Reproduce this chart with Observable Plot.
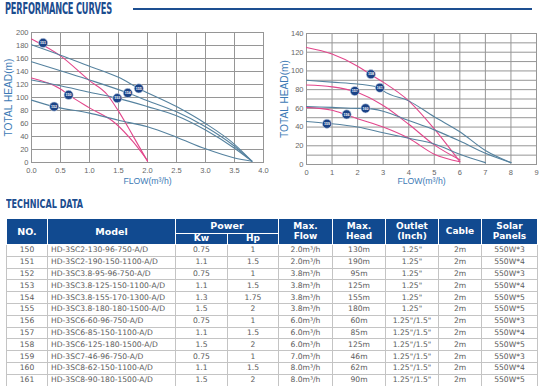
<!DOCTYPE html>
<html>
<head>
<meta charset="utf-8">
<script src="https://cdn.jsdelivr.net/npm/d3@7"></script>
<script src="https://cdn.jsdelivr.net/npm/@observablehq/plot@0.6"></script>
<style>
  html, body { margin: 0; padding: 0; background: #fff; }
  body { width: 540px; height: 386px; overflow: hidden; position: relative; font-family: "DejaVu Sans", Verdana, sans-serif; }
  .heading { position: absolute; color: #1c4d8f; font-family: "Liberation Sans Narrow", "DejaVu Sans Condensed", sans-serif; font-weight: bold; white-space: nowrap; transform-origin: 0 0; line-height: 1; }
  #perf { left: 5px; top: 2px; font-size: 15px; letter-spacing: -0.3px; }
  #tech { left: 6px; top: 198px; font-size: 12.5px; }
  #rule { position: absolute; left: 133px; top: 8px; width: 399px; height: 2px; background: #1d4f91; }
  .chart { position: absolute; top: 20px; }
  #left { left: 0; }
  #right { left: 270px; }
  table { position: absolute; left: 6px; top: 218px; width: 531px; border-collapse: collapse; table-layout: fixed; }
  th { background: #114a90; color: #fff; font-weight: bold; font-size: 9px; line-height: 9.5px; border: 1.5px solid #fff; padding: 0; text-align: center; }
  th.top { height: 14px; }
  th.sub { height: 10px; }
  td { border: 1px solid #c4c4c4; color: #5a5a5a; font-size: 7.6px; height: 10.8px; line-height: 10px; padding: 0; text-align: center; white-space: nowrap; }
  td.model { text-align: left; padding-left: 3px; }
</style>
</head>
<body>
<div id="perf" class="heading">PERFORMANCE CURVES</div>
<div id="rule"></div>
<div id="left" class="chart"></div>
<div id="right" class="chart"></div>
<div id="tech" class="heading">TECHNICAL DATA</div>
<table id="spec"></table>
<script>
// Head (m) against flow (m³/h) for each pump, as [flow, head] pairs
const curve150 = [[0,130],[0.5,113],[0.64,104],[1.0,84],[1.45,60],[1.75,32],[2.0,3]];
const curve151 = [[0,190],[0.5,164],[1.0,126],[1.3,105],[1.5,79],[1.75,41],[2.0,2]];
const curve152 = [[0,96],[0.39,86],[1.0,76],[1.5,65],[2.0,55],[2.5,39],[3.0,21],[3.5,7],[3.8,2]];
const curve153 = [[0,127],[0.5,118],[1.0,108],[1.48,99],[2.0,86],[2.5,72],[3.0,50],[3.5,22],[3.8,2]];
const curve154 = [[0,155],[0.5,141],[1.0,127],[1.66,107],[2.0,95],[2.5,78],[3.0,55],[3.5,25],[3.8,2]];
const curve155 = [[0,181],[0.5,165],[1.0,148],[1.5,131],[1.85,114],[2.5,86],[3.0,60],[3.5,28],[3.8,2]];
const curve156 = [[0,61],[1,58],[1.57,53],[2,49],[3,40],[4,28],[5,11],[6,3]];
const curve157 = [[0,85],[1,83],[1.89,78],[3,63],[4,43],[5,21],[6,5]];
const curve158 = [[0,125],[1,118],[2,105],[2.52,96],[3,88],[4,68],[5,38],[6,3]];
const curve159 = [[0,46],[0.8,44],[2,40],[3,34],[4,28],[5,22],[6,11],[7,2]];
const curve160 = [[0,62],[1,61],[2,60],[2.31,60],[3,57],[4,47],[5,37],[6,25],[7,12],[8,2]];
const curve161 = [[0,90],[1,88],[2,86],[2.87,82],[3,79],[4,68],[5,51],[6,35],[7,15],[8,2]];

// Numbered badges on the curves
const badgeNo   = [151, 152, 150, 153, 154, 155, 158, 161, 157, 160, 156, 159];
const badgeFlow = [0.2, 0.39, 0.64, 1.48, 1.66, 1.85, 2.52, 2.87, 1.89, 2.31, 1.57, 0.8];
const badgeHead = [184, 86, 104, 99, 107, 114, 96.5, 82, 78.5, 60, 53.5, 43.5];

// Technical data
const modelNo   = [150, 151, 152, 153, 154, 155, 156, 157, 158, 159, 160, 161];
const modelName = ["HD-3SC2-130-96-750-A/D", "HD-3SC2-190-150-1100-A/D", "HD-3SC3.8-95-96-750-A/D",
  "HD-3SC3.8-125-150-1100-A/D", "HD-3SC3.8-155-170-1300-A/D", "HD-3SC3.8-180-180-1500-A/D",
  "HD-3SC6-60-96-750-A/D", "HD-3SC6-85-150-1100-A/D", "HD-3SC6-125-180-1500-A/D",
  "HD-3SC7-46-96-750-A/D", "HD-3SC8-62-150-1100-A/D", "HD-3SC8-90-180-1500-A/D"];
const powerKw   = ["0.75", "1.1", "0.75", "1.1", "1.3", "1.5", "0.75", "1.1", "1.5", "0.75", "1.1", "1.5"];
const powerHp   = ["1", "1.5", "1", "1.5", "1.75", "2", "1", "1.5", "2", "1", "1.5", "2"];
const maxFlow   = ["2.0", "2.0", "3.8", "3.8", "3.8", "3.8", "6.0", "6.0", "6.0", "7.0", "8.0", "8.0"];
const maxHead   = [130, 190, 95, 125, 155, 180, 60, 85, 125, 46, 62, 90];
const outlet    = ['1.25"', '1.25"', '1.25"', '1.25"', '1.25"', '1.25"',
  '1.25"/1.5"', '1.25"/1.5"', '1.25"/1.5"', '1.25"/1.5"', '1.25"/1.5"', '1.25"/1.5"'];
const cable     = ["2m", "2m", "2m", "2m", "2m", "2m", "2m", "2m", "2m", "2m", "2m", "2m"];
const panels    = [3, 4, 3, 4, 5, 5, 3, 4, 5, 3, 4, 5];

// Pumps drawn in magenta; the rest in steel blue
const magentaPumps = [150, 151, 156, 157, 158];

const curvesByNo = {150: curve150, 151: curve151, 152: curve152, 153: curve153, 154: curve154, 155: curve155,
  156: curve156, 157: curve157, 158: curve158, 159: curve159, 160: curve160, 161: curve161};

const PINK = "#e2468b", BLUE = "#55829f", NAVY = "#1b4387", GRID = "#969696", LABEL = "#3d7ab5";

function rowsFor(nos) {
  return nos.flatMap(no => curvesByNo[no].map(([flow, head]) => ({no, flow, head})));
}
function badgesFor(nos) {
  return badgeNo.map((no, i) => ({no, flow: badgeFlow[i], head: badgeHead[i]})).filter(d => nos.includes(d.no));
}

function curveChart({nos, xMax, xTicks, xGrid, xFormat, yMax, yTicks, yGrid, margins, yLabelDx, xLabelDy}) {
  const rows = rowsFor(nos);
  const badges = badgesFor(nos);
  return Plot.plot({
    width: 270, height: 175, ...margins,
    style: {fontFamily: "'Liberation Sans', Arial, sans-serif", fontSize: "7.5px", color: "#666", background: "transparent"},
    x: {domain: [0, xMax], ticks: xTicks, tickFormat: xFormat, tickSize: 0, tickPadding: 5, label: null},
    y: {domain: [0, yMax], ticks: yTicks, tickSize: 0, tickPadding: 3, label: null},
    marks: [
      Plot.ruleX(xGrid, {stroke: GRID, strokeWidth: 1}),
      Plot.ruleY(yGrid, {stroke: GRID, strokeWidth: 1}),
      Plot.frame({stroke: GRID}),
      Plot.line(rows, {x: "flow", y: "head", z: "no", curve: "monotone-x", strokeWidth: 1.1,
        stroke: d => magentaPumps.includes(d.no) ? PINK : BLUE}),
      Plot.dot(badges, {x: "flow", y: "head", r: 4.6, fill: NAVY, stroke: "#cfd8e8", strokeWidth: 0.6}),
      Plot.text(badges, {x: "flow", y: "head", text: d => String(d.no), fill: "#fff", fontSize: 3.6, fontWeight: "bold"}),
      Plot.text(["TOTAL HEAD(m)"], {text: d => d, frameAnchor: "left", dx: yLabelDx, rotate: -90, textAnchor: "middle",
        fill: LABEL, fontSize: 10.2}),
      Plot.text(["FLOW(m³/h)"], {text: d => d, frameAnchor: "bottom", dy: xLabelDy, textAnchor: "middle",
        fill: LABEL, fontSize: 8.7})
    ]
  });
}

document.getElementById("left").append(curveChart({
  nos: [150, 151, 152, 153, 154, 155],
  xMax: 4, xTicks: d3.range(0, 4.001, 0.5), xGrid: d3.range(0.5, 4, 0.5), xFormat: d => d.toFixed(1),
  yMax: 200, yTicks: d3.range(0, 201, 20), yGrid: d3.range(20, 200, 20),
  margins: {marginLeft: 31, marginRight: 7, marginTop: 12, marginBottom: 33},
  yLabelDx: -23, xLabelDy: 21
}));

document.getElementById("right").append(curveChart({
  nos: [156, 157, 158, 159, 160, 161],
  xMax: 9, xTicks: d3.range(0, 10, 1), xGrid: d3.range(1, 9, 1), xFormat: d => String(d),
  yMax: 140, yTicks: d3.range(0, 141, 20), yGrid: d3.range(10, 140, 10),
  margins: {marginLeft: 36, marginRight: 4, marginTop: 13, marginBottom: 31},
  yLabelDx: -22, xLabelDy: 19
}));

// Technical data table
const colWidths = [41, 128, 52, 51, 54, 53, 53, 43, 56];
const table = document.getElementById("spec");
table.innerHTML =
  "<colgroup>" + colWidths.map(w => `<col style="width:${w}px">`).join("") + "</colgroup>" +
  "<thead><tr>" +
    '<th class="top" rowspan="2" style="font-size:9.5px">NO.</th>' +
    '<th class="top" rowspan="2" style="font-size:9.5px">Model</th>' +
    '<th class="top" colspan="2" style="font-size:9.5px">Power</th>' +
    '<th class="top" rowspan="2">Max.<br>Flow</th>' +
    '<th class="top" rowspan="2">Max.<br>Head</th>' +
    '<th class="top" rowspan="2">Outlet<br>(Inch)</th>' +
    '<th class="top" rowspan="2">Cable</th>' +
    '<th class="top" rowspan="2">Solar<br>Panels</th>' +
  "</tr><tr><th class=\"sub\">Kw</th><th class=\"sub\">Hp</th></tr></thead><tbody>" +
  modelNo.map((no, i) => "<tr>" +
    `<td>${no}</td><td class="model">${modelName[i]}</td><td>${powerKw[i]}</td><td>${powerHp[i]}</td>` +
    `<td>${maxFlow[i]}m³/h</td><td>${maxHead[i]}m</td><td>${outlet[i]}</td><td>${cable[i]}</td>` +
    `<td>550W*${panels[i]}</td></tr>`).join("") +
  "</tbody>";

// Squeeze the headings to their condensed widths
function fitWidth(id, target) {
  const el = document.getElementById(id);
  el.style.display = "inline-block";
  const w = el.getBoundingClientRect().width;
  el.style.transform = `scaleX(${target / w})`;
}
fitWidth("perf", 107);
fitWidth("tech", 77);
</script>
</body>
</html>
